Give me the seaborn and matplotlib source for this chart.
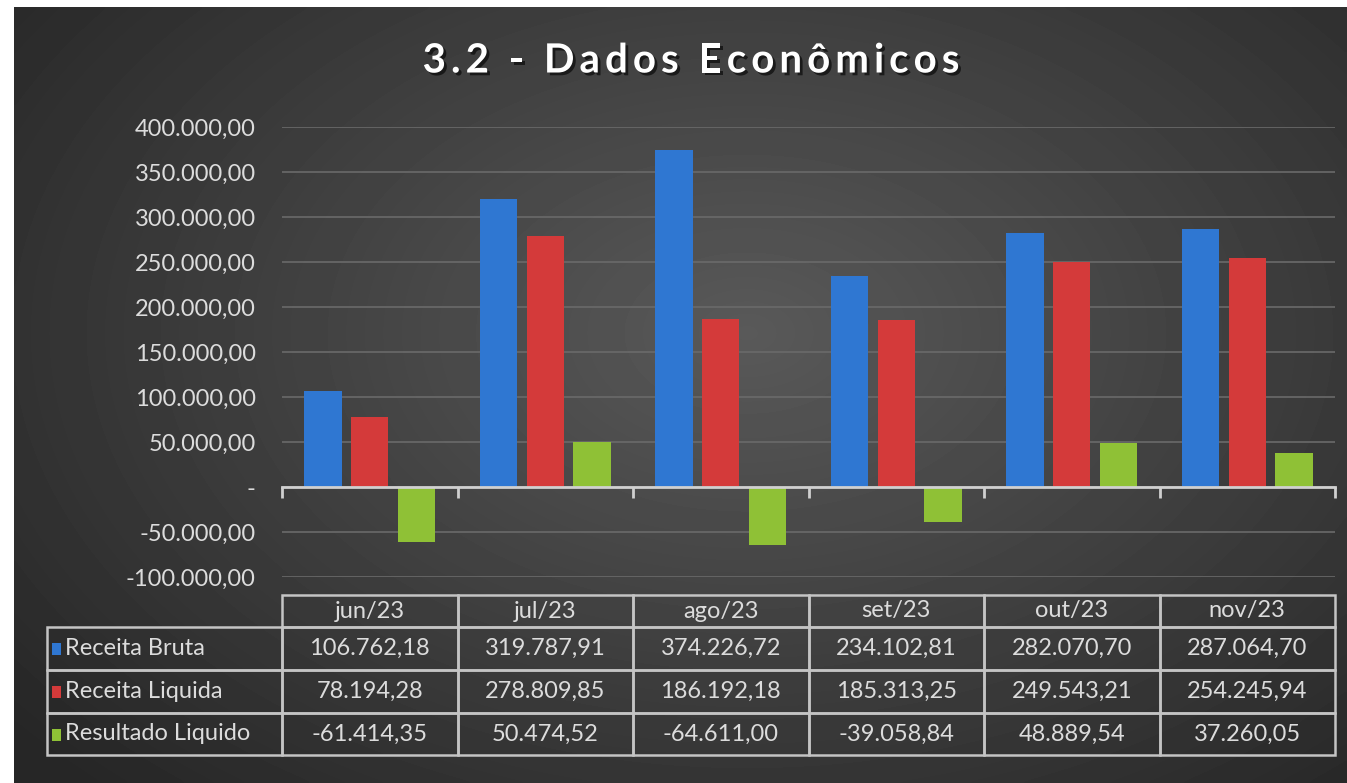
import matplotlib
matplotlib.use("Agg")
import matplotlib.pyplot as plt
import matplotlib.patheffects as pe
from matplotlib.patches import Rectangle
import seaborn as sns
import numpy as np
import pandas as pd

# data
months = ["jun/23", "jul/23", "ago/23", "set/23", "out/23", "nov/23"]
series_names = ["Receita Bruta", "Receita Liquida", "Resultado Liquido"]
receita_bruta = [106762.18, 319787.91, 374226.72, 234102.81, 282070.70, 287064.70]
receita_liquida = [78194.28, 278809.85, 186192.18, 185313.25, 249543.21, 254245.94]
resultado_liquido = [-61414.35, 50474.52, -64611.00, -39058.84, 48889.54, 37260.05]
y_ticks = [-100000, -50000, 0, 50000, 100000, 150000, 200000, 250000, 300000, 350000, 400000]
title = "3.2 - Dados Econômicos"

colors = {"Receita Bruta": "#2f77d2", "Receita Liquida": "#d43a3a", "Resultado Liquido": "#8fc136"}
text_col = "#dcdcdc"


def br_fmt(v):
    # excel style: 1.234,56 and "-" for zero
    if v == 0:
        return "-"
    s = f"{v:,.2f}"
    return s.replace(",", "X").replace(".", ",").replace("X", ".")


df = pd.DataFrame({
    "mes": months * 3,
    "serie": np.repeat(series_names, len(months)),
    "valor": receita_bruta + receita_liquida + resultado_liquido,
})

sns.set_theme(style="white")
plt.rcParams["font.family"] = ["Lato", "DejaVu Sans"]

W, H = 1347, 783
fig = plt.figure(figsize=(W / 100, H / 100), dpi=100, facecolor="white")

# dark radial-ish background
bg = fig.add_axes([14 / W, 0, 1 - 14 / W, 1 - 7 / H], zorder=-10)
gx, gy = np.meshgrid(np.linspace(0, 1, 400), np.linspace(0, 1, 240))
r = np.sqrt(((gx - 0.55) / 0.75) ** 2 + ((gy - 0.42) / 0.85) ** 2)
grad = np.clip(0.35 - 0.21 * r, 0.15, 0.37)
bg.imshow(grad, cmap="gray", vmin=0, vmax=1, aspect="auto", interpolation="bicubic")
bg.set_axis_off()

# main chart
ax = fig.add_axes([282 / W, 1 - 577 / H, (1335 - 282) / W, 450 / H])
ax.set_facecolor("none")
sns.barplot(data=df, x="mes", y="valor", hue="serie", hue_order=series_names,
            palette=colors, saturation=1, width=0.8, gap=0.2, legend=False, ax=ax,
            linewidth=0, zorder=3)

ax.set_ylim(-100000, 400000)
ax.set_xlim(-0.5, len(months) - 0.5)
ax.set_yticks(y_ticks)
ax.set_yticklabels([br_fmt(t) for t in y_ticks], color=text_col, fontsize=17)
ax.tick_params(axis="y", length=0, pad=19)
ax.yaxis.grid(True, color="#6a6a6a", linewidth=1.2)
ax.set_axisbelow(True)
ax.set_xlabel("")
ax.set_ylabel("")

for s in ["top", "left", "right"]:
    ax.spines[s].set_visible(False)
ax.spines["bottom"].set_position(("data", 0))
ax.spines["bottom"].set_color("#d0d0d0")
ax.spines["bottom"].set_linewidth(2)
ax.spines["bottom"].set_zorder(4)
ax.set_xticks(np.arange(-0.5, len(months)), minor=True)
ax.set_xticks([])
ax.tick_params(axis="x", which="minor", direction="out", length=8, width=2,
               color="#d0d0d0", bottom=True)

# title, drawn letter by letter to get the wide tracking of the original
renderer = fig.canvas.get_renderer()
title_kw = dict(fontsize=29, fontweight="bold", color="white", va="center", ha="left",
                path_effects=[pe.withSimplePatchShadow(offset=(2, -2), shadow_rgbFace="black", alpha=0.6)])
widths = []
for ch in title:
    if ch == " ":
        widths.append(10)
        continue
    t = fig.text(0, 0, ch, **title_kw)
    widths.append(t.get_window_extent(renderer).width)
    t.remove()
tracking = 5
total = sum(widths) + tracking * (len(title) - 1)
x = 691 - total / 2
for ch, w in zip(title, widths):
    if ch != " ":
        fig.text(x / W, 1 - 61 / H, ch, **title_kw)
    x += w + tracking

# data table under the chart
tab_ax = fig.add_axes([47 / W, 1 - 755 / H, 1288 / W, 160 / H])
tab_ax.set_axis_off()
cell_text = [[""] + months]
for name, vals in zip(series_names, [receita_bruta, receita_liquida, resultado_liquido]):
    cell_text.append([name] + [br_fmt(v) for v in vals])

col_w = [235 / 1288] + [(1288 - 235) / 6 / 1288] * 6
tbl = tab_ax.table(cellText=cell_text, colWidths=col_w, cellLoc="center",
                   bbox=[0, 0, 1, 1])
tbl.auto_set_font_size(False)
tbl.set_fontsize(17)
row_h = [32, 43, 43, 42]
for (i, j), cell in tbl.get_celld().items():
    cell.set_height(row_h[i] / 160)
    cell.set_facecolor("none")
    cell.set_edgecolor("#c4c4c4")
    cell.set_linewidth(1.8)
    cell.get_text().set_color(text_col)
    if j == 0:
        cell.get_text().set_ha("left")
        cell.PAD = 0.075
    if i == 0 and j == 0:
        cell.visible_edges = "open"

# little legend keys in front of series names
y_top = 1.0 - 32 / 160
for k, name in enumerate(series_names):
    yc = y_top - (k + 0.5) * 43 / 160
    tab_ax.add_patch(Rectangle((5 / 1288, yc - 6 / 160), 9 / 1288, 12 / 160,
                               facecolor=colors[name], edgecolor="none",
                               transform=tab_ax.transAxes, zorder=5))

fig.savefig("out.png", dpi=100, facecolor=fig.get_facecolor())
